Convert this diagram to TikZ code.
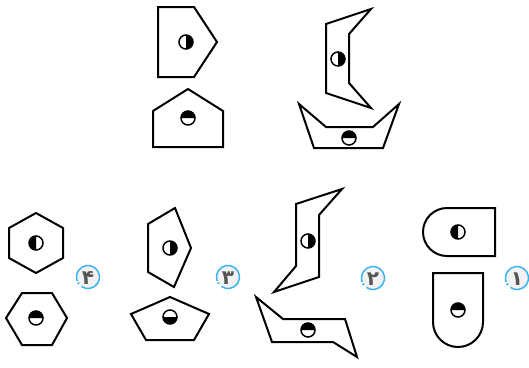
\documentclass[tikz,border=0pt]{standalone}
\usepackage{fontspec}
\newfontfamily\arabicfont[Script=Arabic]{DejaVu Sans}
\definecolor{ringblue}{HTML}{3BB2EE}
\definecolor{badgefill}{HTML}{F2F2F2}
\definecolor{digitgray}{HTML}{555555}
\tikzset{
  shapeline/.style={draw=black, line width=2pt, line join=miter},
  pics/halfdisk/.style={code={
    \fill[black, rotate=#1] (0,-7) arc[start angle=-90, end angle=90, radius=7] -- cycle;
    \draw[black, line width=1.5pt] (0,0) circle[radius=7];
  }},
  pics/badge/.style={code={
    \fill[badgefill] (0,0) circle[radius=11.5];
    \draw[ringblue, line width=1.5pt] (125:11.5) arc[start angle=125, end angle=-200, radius=11.5];
    \fill[ringblue] (147:11.5) circle[radius=1.2];
    \node[text=digitgray, font=\arabicfont\bfseries\fontsize{20}{20}\selectfont, inner sep=0pt] at (0,1) {#1};
  }}
}
\begin{document}
\begin{tikzpicture}[x=1pt, y=-1pt]
\useasboundingbox (0,0) rectangle (529,367);
% top-left pentagon pointing right
\draw[shapeline] (158,7) -- (194,7) -- (217,42) -- (194,77) -- (158,77) -- cycle;
\pic at (186,42) {halfdisk=0};
% house pentagon
\draw[shapeline] (188,89) -- (223,111) -- (223,147) -- (153,147) -- (153,111) -- cycle;
\pic at (188,118) {halfdisk=90};
% top-right bracket shape
\draw[shapeline] (326,24) -- (371,9) -- (349,34) -- (349,83) -- (371,108) -- (326,93) -- cycle;
\pic at (338,59) {halfdisk=0};
% boat shape
\draw[shapeline] (299,104) -- (326,127) -- (373,127) -- (399,104) -- (383,148) -- (314,148) -- cycle;
\pic at (349,138) {halfdisk=90};
% option 4: hexagons
\draw[shapeline] (36,213) -- (63,228) -- (63,258) -- (36,273) -- (9,258) -- (9,228) -- cycle;
\pic at (36,243) {halfdisk=180};
\draw[shapeline] (22,293) -- (52,293) -- (67,318) -- (52,345) -- (22,345) -- (6,318) -- cycle;
\pic at (36,318) {halfdisk=90};
\pic at (88,277) {badge=۴};
% option 3: pentagons
\draw[shapeline] (175,208) -- (191,248) -- (174,287) -- (148,272) -- (148,224) -- cycle;
\pic at (170,248) {halfdisk=0};
\draw[shapeline] (170,297) -- (209,314) -- (194,340) -- (146,340) -- (131,314) -- cycle;
\pic at (170,317) {halfdisk=-90};
\pic at (228,277) {badge=۳};
% option 2: zigzag shapes
\draw[shapeline] (296,204) -- (342,189) -- (319,215) -- (319,277) -- (274,292) -- (296,266) -- cycle;
\pic at (308,241) {halfdisk=0};
\draw[shapeline] (256,297) -- (283,319) -- (345,319) -- (357,357) -- (333,342) -- (272,342) -- cycle;
\pic at (308,330) {halfdisk=90};
\pic at (373,278) {badge=۲};
% option 1: rounded shapes
\draw[shapeline] (495,208) -- (447,208) arc[start angle=270, end angle=90, radius=24] -- (495,256) -- cycle;
\pic at (458,232) {halfdisk=180};
\draw[shapeline] (433,273) -- (483,273) -- (483,322) arc[start angle=0, end angle=180, radius=25] -- cycle;
\pic at (458,310) {halfdisk=90};
\pic at (517,278) {badge=۱};
\end{tikzpicture}
\end{document}
